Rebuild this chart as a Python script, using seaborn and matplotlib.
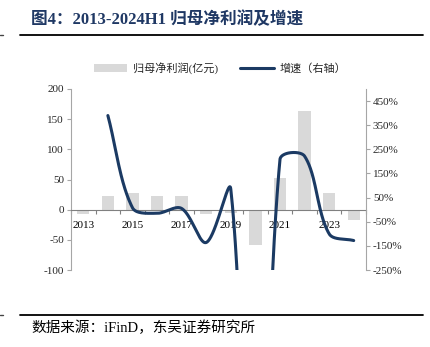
import numpy as np
import pandas as pd
import matplotlib
matplotlib.use('Agg')
import matplotlib.pyplot as plt
import seaborn as sns
from matplotlib.lines import Line2D
from matplotlib.patches import Patch

# ---------------- data ----------------
categories = ['2013', '2014', '2015', '2016', '2017', '2018', '2019',
              '2020', '2021', '2022', '2023', '2024H1']
profit = [-8, 22, 27, 23, 22, -8, -5, -59, 53, 163, 28, -17]          # 亿元
growth = [np.nan, 390, 8, -15, 5, -136, 85, -2000, 208, 222, -100, -128]  # %
tick_labels = ['2013', '', '2015', '', '2017', '', '2019', '', '2021', '', '2023', '']
left_ticks = [-100, -50, 0, 50, 100, 150, 200]
right_ticks = [-250, -150, -50, 50, 150, 250, 350, 450]

BAR_C = '#D9D9D9'
LINE_C = '#1B3A63'
GRAY = '#A6A6A6'

sns.set_theme(style='white')
plt.rcParams['font.family'] = ['Liberation Serif', 'Noto Sans CJK SC']
plt.rcParams['axes.unicode_minus'] = False

W, H = 430, 347
fig = plt.figure(figsize=(W / 100, H / 100), dpi=100)
ax = fig.add_axes([71 / W, 1 - 270 / H, (366 - 71) / W, (270 - 89) / H])

df = pd.DataFrame({'year': categories, 'profit': profit})
sns.barplot(data=df, x='year', y='profit', color=BAR_C, saturation=1,
            width=0.5, linewidth=0, ax=ax, zorder=1)
ax.set_xlim(-0.5, 11.5)
ax.set_ylim(-100, 200)
ax.set_yticks(left_ticks)
ax.set_xticks(range(len(categories)))
ax.set_xticklabels(tick_labels)
ax.set_xticks(np.arange(-0.5, 12, 1), minor=True)
ax.set_xlabel('')
ax.set_ylabel('')
ax.grid(False)
ax.spines['bottom'].set_position(('data', 0))
ax.spines['bottom'].set_color('#808080')
ax.spines['bottom'].set_linewidth(0.8)
ax.spines['top'].set_visible(False)
ax.spines['right'].set_visible(False)
ax.spines['left'].set_color(GRAY)
ax.spines['left'].set_linewidth(0.8)
ax.tick_params(axis='x', which='major', length=0, pad=8, labelsize=8, colors='black')
ax.tick_params(axis='x', which='minor', length=3, direction='out', color='#808080', width=0.8, bottom=True)
ax.tick_params(axis='y', length=3, direction='out', color=GRAY, width=0.8, labelsize=8, pad=2, left=True)

ax2 = ax.twinx()
ax2.set_xlim(-0.5, 11.5)
ax2.set_ylim(-250, 500)
ax2.set_yticks(right_ticks)
ax2.set_yticklabels([f'{v}%' for v in right_ticks])
ax2.grid(False)
for s in ['top', 'left', 'bottom']:
    ax2.spines[s].set_visible(False)
ax2.spines['right'].set_color(GRAY)
ax2.spines['right'].set_linewidth(0.8)
ax2.tick_params(axis='y', length=3, direction='out', color=GRAY, width=0.8, labelsize=8, pad=2, right=True)


def smooth_curve(xs, ys, trans, n=80):
    pts = trans.transform(np.column_stack([xs, ys]))
    m = len(pts)
    out = []
    for i in range(m - 1):
        p0, p3 = pts[i], pts[i + 1]
        pm = pts[i - 1] if i > 0 else p0
        pn = pts[i + 2] if i + 2 < m else p3
        d01 = np.linalg.norm(p0 - pm)
        d12 = np.linalg.norm(p3 - p0)
        d23 = np.linalg.norm(pn - p3)
        c1 = p0 + (p3 - pm) * (d12 / (d01 + d12)) / 3
        c2 = p3 - (pn - p0) * (d12 / (d12 + d23)) / 3
        t = np.linspace(0, 1, n)[:, None]
        seg = ((1 - t) ** 3) * p0 + 3 * ((1 - t) ** 2) * t * c1 + 3 * (1 - t) * t ** 2 * c2 + t ** 3 * p3
        out.append(seg if i == 0 else seg[1:])
    curve = np.vstack(out)
    return trans.inverted().transform(curve)


gx = np.array([i for i, g in enumerate(growth) if not np.isnan(g)], dtype=float)
gy = np.array([g for g in growth if not np.isnan(g)], dtype=float)
curve = smooth_curve(gx, gy, ax2.transData)
sns.lineplot(x=curve[:, 0], y=curve[:, 1], sort=False, estimator=None,
             color=LINE_C, linewidth=2.2, ax=ax2)
ax2.set_xlim(-0.5, 11.5)
ax2.set_ylim(-250, 500)
ax2.set_xlabel('')
ax2.set_ylabel('')

handles = [Patch(facecolor=BAR_C, edgecolor='none', label='归母净利润(亿元)'),
           Line2D([], [], color=LINE_C, lw=2.2, label='增速（右轴）')]
fig.legend(handles=handles, loc='center', bbox_to_anchor=(220 / W, 1 - 68 / H),
           ncol=2, frameon=False, fontsize=8, handlelength=3.0,
           handletextpad=0.5, columnspacing=2.0)

fig.text(31 / W, 1 - 20 / H, '图4：2013-2024H1 归母净利润及增速', fontsize=12,
         fontweight='bold', color='#1F3864', ha='left', va='center')
fig.add_artist(Line2D([20 / W, 423 / W], [1 - 35 / H] * 2, color='black', lw=1.3))
fig.add_artist(Line2D([0, 3 / W], [1 - 35 / H] * 2, color='#444444', lw=1.0))
fig.add_artist(Line2D([20 / W, 423 / W], [1 - 315 / H] * 2, color='black', lw=1.3))
fig.add_artist(Line2D([0, 3 / W], [1 - 315 / H] * 2, color='#444444', lw=1.0))
fig.text(31 / W, 1 - 328 / H, '数据来源：iFinD，东吴证券研究所', fontsize=10.5,
         color='black', ha='left', va='center')

fig.savefig('out.png', dpi=100)
